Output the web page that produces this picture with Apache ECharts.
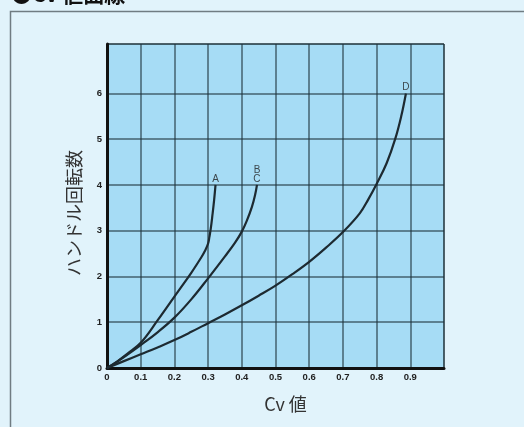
<!DOCTYPE html>
<html><head><meta charset="utf-8">
<script src="https://cdn.jsdelivr.net/npm/echarts@6/dist/echarts.min.js"></script>
<style>html,body{margin:0;padding:0;background:#e1f3fb;}#c{width:524px;height:427px;}</style>
</head><body><div id="c"></div>
<script>
// Data
const curveA_x = [0, 0.03, 0.06, 0.1, 0.15, 0.2, 0.25, 0.28, 0.29, 0.3, 0.304, 0.308, 0.313, 0.318, 0.322];
const curveA_y = [0, 0.14, 0.31, 0.55, 1.04, 1.56, 2.08, 2.42, 2.55, 2.72, 2.87, 3.05, 3.35, 3.68, 4.0];
const curveC_x = [0, 0.03, 0.06, 0.1, 0.15, 0.2, 0.25, 0.3, 0.35, 0.38, 0.4, 0.415, 0.43, 0.44, 0.445];
const curveC_y = [0, 0.14, 0.29, 0.5, 0.78, 1.1, 1.5, 1.96, 2.44, 2.74, 2.98, 3.22, 3.52, 3.8, 4.0];
const curveD_x = [0, 0.05, 0.1, 0.15, 0.2, 0.25, 0.3, 0.35, 0.4, 0.45, 0.5, 0.55, 0.6, 0.65, 0.7, 0.75, 0.775, 0.8, 0.83, 0.855, 0.873, 0.887];
const curveD_y = [0, 0.15, 0.3, 0.45, 0.61, 0.79, 0.98, 1.17, 1.37, 1.58, 1.8, 2.05, 2.32, 2.63, 2.97, 3.38, 3.68, 4.02, 4.48, 5.0, 5.5, 6.0];
const curveNames = ['A', 'B\nC', 'D'];
const xTicks = [0, 0.1, 0.2, 0.3, 0.4, 0.5, 0.6, 0.7, 0.8, 0.9];
const yTicks = [0, 1, 2, 3, 4, 5, 6];
const xName = 'Cv 値';
const yName = 'ハンドル回転数';
const titleText = '●Cv 値曲線';

const zip = (xs, ys) => xs.map((x, i) => [x, ys[i]]);
const curves = [zip(curveA_x, curveA_y), zip(curveC_x, curveC_y), zip(curveD_x, curveD_y)];
const ends = curves.map((c, i) => ({ name: curveNames[i], value: c[c.length - 1] }));

const chart = echarts.init(document.getElementById('c'));
const lineColor = '#1d2a31';
const gridLine = 'rgba(30,50,60,0.72)';
chart.setOption({
  backgroundColor: '#e1f3fb',
  animation: false,
  graphic: [
    { type: 'rect', shape: { x: 10.5, y: 11.5, width: 600, height: 500 }, style: { fill: 'none', stroke: '#707c82', lineWidth: 1.5 }, silent: true },
    { type: 'text', left: 11, top: -16, style: { text: titleText, font: 'bold 21px "Noto Sans CJK JP"', fill: '#111' } }
  ],
  grid: { left: 107, right: 80, top: 44, bottom: 59, show: true, backgroundColor: '#a6dcf5', borderColor: '#2b3a40', borderWidth: 1 },
  xAxis: {
    type: 'value', min: 0, max: 1.0, interval: 0.1,
    name: xName, nameLocation: 'middle', nameGap: 27,
    nameTextStyle: { fontSize: 18, color: '#333', fontFamily: '"Noto Sans CJK JP"', padding: [0, 0, 0, 20] },
    axisLine: { show: true, lineStyle: { color: '#111', width: 3 } },
    axisTick: { show: false },
    axisLabel: {
      margin: 4, fontSize: 9.5, fontWeight: 'bold', color: '#222', fontFamily: 'Liberation Sans',
      formatter: v => (xTicks.some(t => Math.abs(t - v) < 1e-6) ? (v === 0 ? '0' : v.toFixed(1)) : '')
    },
    splitLine: { show: true, lineStyle: { color: gridLine, width: 1.5 } }
  },
  yAxis: {
    type: 'value', min: 0, max: 7.08, interval: 1,
    name: yName, nameLocation: 'middle', nameGap: 24, nameRotate: 90,
    nameTextStyle: { fontSize: 18, color: '#333', fontFamily: '"Noto Sans CJK JP"', padding: [0, 14, 0, 0] },
    axisLine: { show: true, lineStyle: { color: '#111', width: 3 } },
    axisTick: { show: false },
    axisLabel: {
      margin: 5, fontSize: 9.5, fontWeight: 'bold', color: '#222', fontFamily: 'Liberation Sans',
      formatter: v => (yTicks.includes(v) ? String(v) : '')
    },
    splitLine: { show: true, lineStyle: { color: [gridLine, gridLine, gridLine, gridLine, gridLine, gridLine, gridLine, 'rgba(0,0,0,0)', gridLine], width: 1.5 } }
  },
  series: [
    ...curves.map(c => ({
      type: 'line', data: c, smooth: 0.4, symbol: 'none',
      lineStyle: { color: lineColor, width: 2.2 }
    })),
    {
      type: 'scatter', data: ends, symbolSize: 1, itemStyle: { color: 'rgba(0,0,0,0)' },
      label: { show: true, position: 'top', distance: 1, formatter: p => p.name, fontSize: 10, lineHeight: 9, color: '#222', fontFamily: 'Liberation Sans' }
    }
  ]
});
</script></body></html>
